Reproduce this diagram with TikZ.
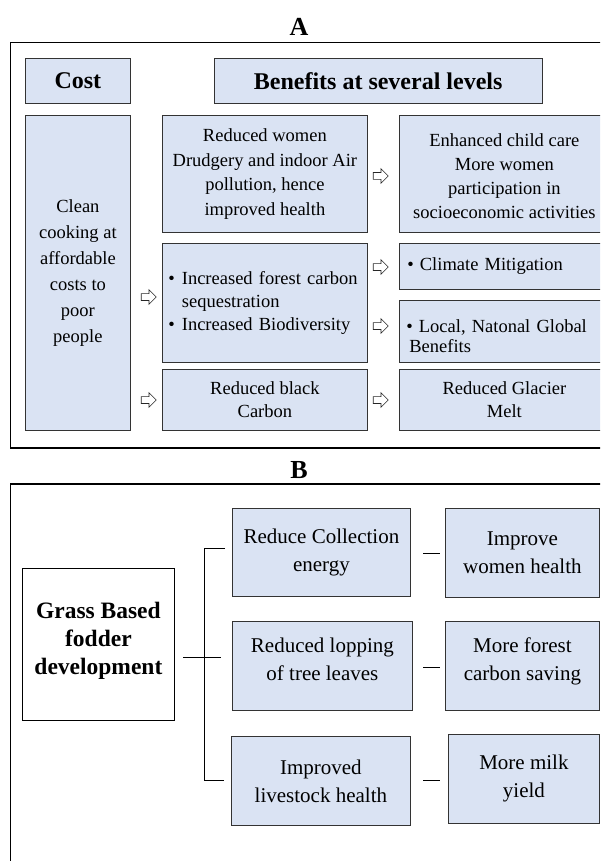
\documentclass[tikz,border=0pt]{standalone}
\usepackage{fontspec}
\setmainfont{Liberation Serif}
\usetikzlibrary{shapes.arrows}

\definecolor{azulclaro}{HTML}{DAE3F3}

\tikzset{
  caja/.style={draw=black!80, fill=azulclaro, line width=0.8pt, anchor=north west,
    align=center, inner sep=4pt, font=\fontsize{18.5}{23}\selectfont},
  cabecera/.style={caja, font=\bfseries\fontsize{24}{28}\selectfont},
  cajab/.style={caja, font=\fontsize{21}{28}\selectfont},
  raiz/.style={caja, fill=white, draw=black, font=\bfseries\fontsize{23.5}{28}\selectfont},
  flecha/.style={single arrow, draw=black!85, fill=white, line width=0.65pt,
    minimum height=15pt, inner sep=3.1pt, single arrow head extend=3.8pt},
  marco/.style={draw=black, line width=1.3pt},
  rama/.style={line width=0.9pt},
  letra/.style={font=\bfseries\fontsize{26}{30}\selectfont},
}

\begin{document}
\begin{tikzpicture}[x=1pt, y=-1pt]
    % Marco de la pagina
    \useasboundingbox (0,0) rectangle (600,861);
    \clip (0,0) rectangle (600,861);

    % Parte A
    \node[letra] (tA) at (299,27) {A};
    \draw[marco] (10.7,42.7) rectangle (640,448);

    % Cabeceras
    \node[cabecera, minimum width=105pt, minimum height=45pt] (cost) at (25,58) {Cost};
    \node[cabecera, minimum width=327.5pt, minimum height=45pt] (bene) at (214,58) {Benefits at several levels};

    % Columna de coste
    \node[caja, minimum width=105pt, minimum height=315pt, font=\fontsize{18.5}{26}\selectfont] (clean) at (25,115)
        {Clean\\cooking at\\affordable\\costs to\\poor\\people};

    % Beneficios
    \node[caja, minimum width=205pt, minimum height=117pt, font=\fontsize{18.5}{24.5}\selectfont] (rw) at (162,115)
        {Reduced women\\Drudgery and indoor Air\\pollution, hence\\improved health};
    \node[caja, minimum width=210pt, minimum height=117pt, font=\fontsize{18.5}{24}\selectfont] (enh) at (399,115)
        {\rule{0pt}{17pt}Enhanced child care\\More women\\participation in\\socioeconomic activities};
    \node[caja, minimum height=119pt, text width=193pt, inner xsep=6pt, align=left] (mid) at (162,243)
        {\makebox[193pt][s]{\textbullet\hspace{7pt}Increased forest carbon}\\
         \hspace*{13.5pt}sequestration\\
         \textbullet\hspace{7pt}Increased Biodiversity};
    \node[caja, minimum height=46pt, text width=194pt, inner xsep=8pt, align=left] (clim) at (399,243)
        {\textbullet\hspace{6pt}Climate Mitigation};
    \node[caja, minimum height=62pt, text width=196pt, inner xsep=7pt, align=left,
          font=\fontsize{18.5}{20}\selectfont] (loc) at (399,300)
        {\makebox[191pt][s]{\rule{0pt}{22pt}\textbullet\hspace{6pt}Local, Natonal Global}\\
         \hspace*{3pt}Benefits};
    \node[caja, minimum width=205pt, minimum height=61pt] (blk) at (162,369)
        {Reduced black\\Carbon};
    \node[caja, minimum width=210pt, minimum height=61pt] (glac) at (399,369)
        {Reduced Glacier\\Melt};

    % Flechas
    \node[flecha] (fl1) at (147,297) {};
    \node[flecha] (fl2) at (147,400) {};
    \node[flecha] (fl3) at (379,176) {};
    \node[flecha] (fl4) at (379,267) {};
    \node[flecha] (fl5) at (379,326) {};
    \node[flecha] (fl6) at (379,400) {};

    % Parte B
    \node[letra] (tB) at (299,470) {B};
    \draw[marco] (10.7,484) rectangle (640,900);

    \node[raiz, minimum width=152pt, minimum height=152pt] (grass) at (22,568)
        {Grass Based\\fodder\\development\\[-15pt]};

    \node[cajab, minimum width=178pt, minimum height=88pt] (rc) at (232,508)
        {Reduce Collection\\energy};
    \node[cajab, minimum width=154pt, minimum height=89pt] (imp) at (445,508)
        {Improve\\women health};
    \node[cajab, minimum width=180pt, minimum height=89pt] (rl) at (232,621)
        {Reduced lopping\\of tree leaves\\[-14pt]};
    \node[cajab, minimum width=154pt, minimum height=89pt] (mf) at (445,621)
        {More forest\\carbon saving\\[-14pt]};
    \node[cajab, minimum width=179pt, minimum height=89pt] (il) at (231,736)
        {Improved\\livestock health};
    \node[cajab, minimum width=151pt, minimum height=89pt] (mm) at (448,734)
        {More milk\\yield};

    % Lineas del arbol
    \coordinate (b1) at (225,548);
    \coordinate (t1) at (204,548);
    \coordinate (t3) at (204,780);
    \coordinate (b3) at (224,780);
    \coordinate (m1) at (183,657);
    \coordinate (m2) at (221,657);
    \draw[rama] (b1) -- (t1) -- (t3) -- (b3);
    \draw[rama] (m1) -- (m2);

    % Guiones
    \coordinate (g1a) at (423,553); \coordinate (g1b) at (440,553);
    \coordinate (g2a) at (423,667); \coordinate (g2b) at (440,667);
    \coordinate (g3a) at (423,780); \coordinate (g3b) at (440,780);
    \draw[rama] (g1a) -- (g1b);
    \draw[rama] (g2a) -- (g2b);
    \draw[rama] (g3a) -- (g3b);
\end{tikzpicture}
\end{document}
